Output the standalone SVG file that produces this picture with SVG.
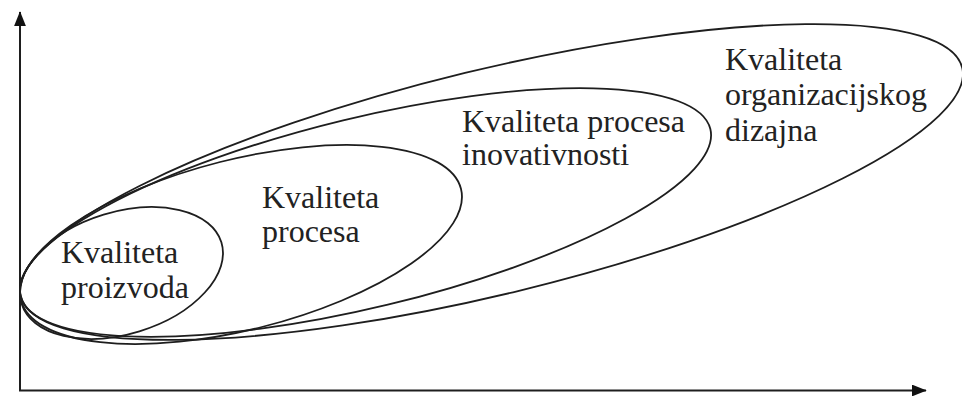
<svg xmlns="http://www.w3.org/2000/svg" width="962" height="396" viewBox="0 0 962 396">
  <style>
    .ell { fill: none; stroke: #1e1e1e; stroke-width: 1.8; }
    .axis { fill: none; stroke: #1e1e1e; stroke-width: 2; }
    .lbl { font-family: 'Liberation Serif', 'DejaVu Serif', serif; font-size: 32px; fill: #222; }
  </style>
  <defs>
    <marker id="arrow" viewBox="0 0 10 8" refX="9.5" refY="4" markerWidth="7.5" markerHeight="6" markerUnits="strokeWidth" orient="auto">
      <path d="M0,0 L10,4 L0,8 Z" fill="#111"/>
    </marker>
  </defs>
  <rect width="962" height="396" fill="#fff"/>
  <g id="axes">
    <line class="axis" x1="20" y1="391" x2="20" y2="12" marker-end="url(#arrow)"/>
    <line class="axis" x1="19" y1="390.5" x2="926" y2="390.5" marker-end="url(#arrow)"/>
  </g>
  <g id="node-organizacijski-dizajn">
    <ellipse class="ell" cx="491.5" cy="182" rx="484.4" ry="112.2" transform="rotate(-13.65 491.5 182)"/>
    <text class="lbl" x="725" y="70">Kvaliteta</text>
    <text class="lbl" x="725" y="105">organizacijskog</text>
    <text class="lbl" x="725" y="141">dizajna</text>
  </g>
  <g id="node-inovativnost">
    <ellipse class="ell" cx="365.5" cy="212.5" rx="354.8" ry="94.9" transform="rotate(-13.6 365.5 212.5)"/>
    <text class="lbl" x="462" y="132">Kvaliteta procesa</text>
    <text class="lbl" x="462" y="165">inovativnosti</text>
  </g>
  <g id="node-procesi">
    <ellipse class="ell" cx="241" cy="244.5" rx="226.9" ry="85.1" transform="rotate(-14.2 241 244.5)"/>
    <text class="lbl" x="262" y="208">Kvaliteta</text>
    <text class="lbl" x="262" y="242">procesa</text>
  </g>
  <g id="node-proizvod">
    <ellipse class="ell" cx="121.5" cy="273" rx="104.5" ry="61" transform="rotate(-17.1 121.5 273)"/>
    <text class="lbl" x="61" y="263">Kvaliteta</text>
    <text class="lbl" x="61" y="298">proizvoda</text>
  </g>
</svg>
